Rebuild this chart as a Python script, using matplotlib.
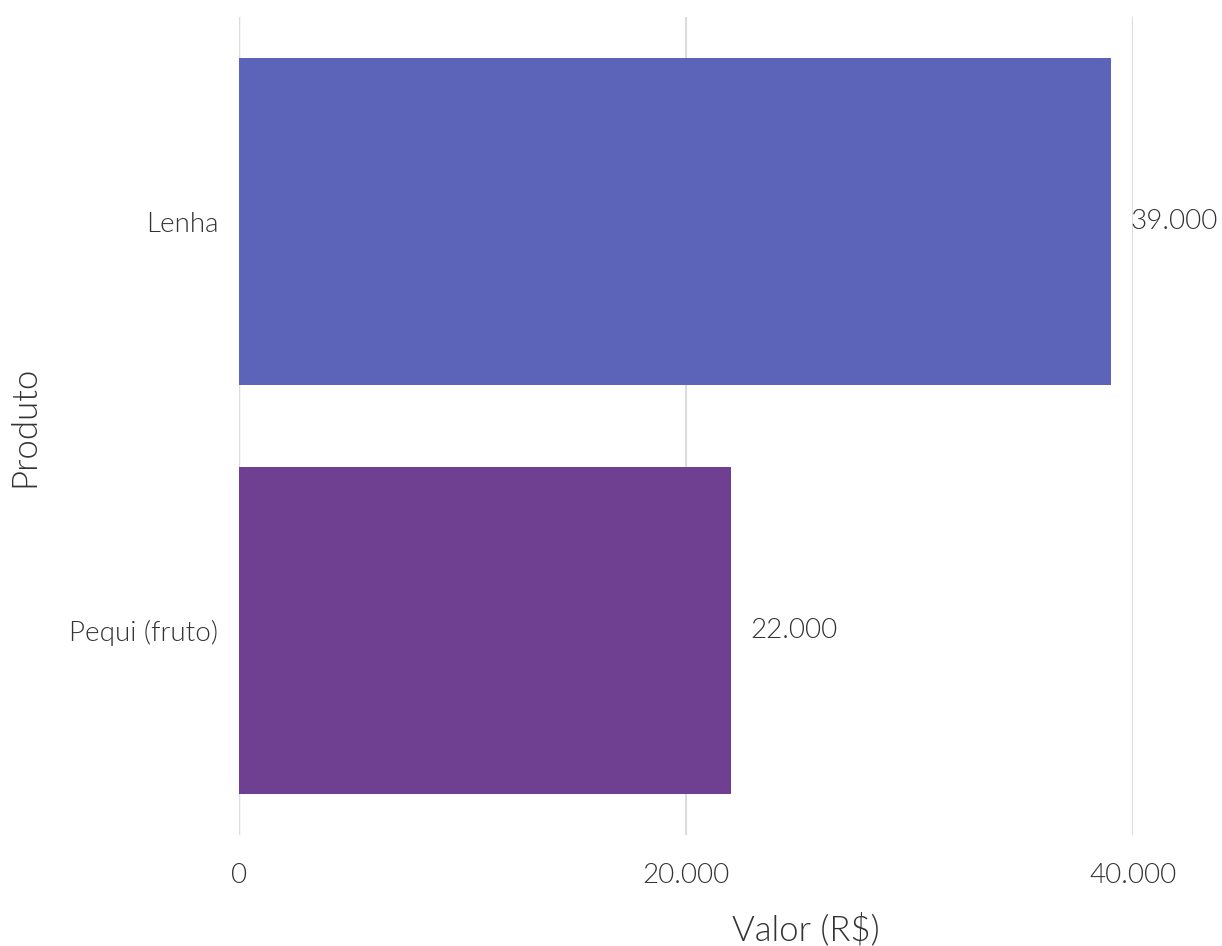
import matplotlib.pyplot as plt
from matplotlib import font_manager as fm
from matplotlib.ticker import FuncFormatter

produtos = ['Lenha', 'Pequi (fruto)']
valores = [39000, 22000]
cores = ['#5b64b8', '#6f3f91']

# Lato Light, picked by file so no other weight-300 face gets used
lato_light = [f.fname for f in fm.fontManager.ttflist
              if f.fname.endswith('Lato-Light.ttf')]
if lato_light:
    fp = fm.FontProperties(fname=lato_light[0])
else:
    fp = fm.FontProperties(family='Lato', weight='light')

fig = plt.figure(figsize=(12.22, 9.46), dpi=100)
ax = fig.add_axes([0.1956, 0.1173, 0.7316, 0.8647])

pos = list(range(len(produtos)))
ax.barh(pos, valores, height=0.8, color=cores, zorder=2)
ax.set_ylim(1.5, -0.5)
ax.set_xlim(0, 40000)
ax.set_xticks([0, 20000, 40000])
ax.set_yticks(pos)

def fmt(v, p=None):
    return f'{int(v):,}'.replace(',', '.')

ax.set_xticklabels([fmt(v) for v in ax.get_xticks()], fontproperties=fp,
                   fontsize=20, color='#333333')
ax.set_yticklabels(produtos, fontproperties=fp, fontsize=20, color='#333333')
for y, v in zip(pos, valores):
    ax.annotate(fmt(v), (v, y), xytext=(14, 0), textcoords='offset points',
                va='center', ha='left', fontproperties=fp, fontsize=20,
                color='#333333')

ax.grid(axis='x', color='#dcdcdc', linewidth=1.5, zorder=0)
ax.axvline(0, color='#bdbdbd', linewidth=1.6, zorder=1)
for s in ax.spines.values():
    s.set_visible(False)
ax.tick_params(length=0)
ax.tick_params(axis='x', pad=20)
ax.tick_params(axis='y', pad=15)
ax.set_xlabel('Valor (R$)', fontproperties=fp, fontsize=25, color='#333333',
              labelpad=18)
ax.xaxis.label.set_x(0.634)
ax.set_ylabel('Produto', fontproperties=fp, fontsize=25, color='#333333',
              labelpad=21)

fig.savefig('out.png', dpi=100)
